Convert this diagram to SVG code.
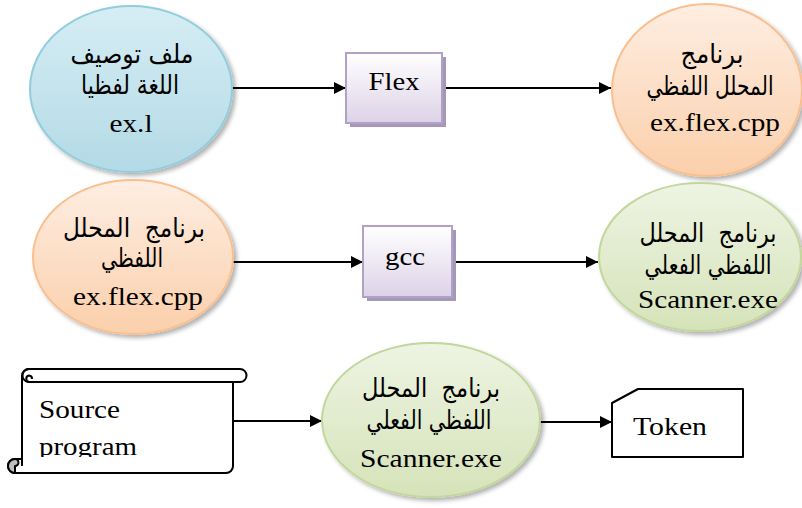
<svg xmlns="http://www.w3.org/2000/svg" width="802" height="508" viewBox="0 0 802 508">
<style>
.t{font-family:"Liberation Serif","Times New Roman",serif;font-size:26px;fill:#000;text-anchor:middle}
.ts{font-family:"Liberation Serif","Times New Roman",serif;font-size:26px;fill:#000}
.ar{font-family:"DejaVu Sans",sans-serif;font-size:22px;fill:#000;text-anchor:middle;white-space:pre}
.blue{fill:url(#gb);stroke:#93cddd;stroke-width:2}
.orange{fill:url(#go);stroke:#f9bf8f;stroke-width:2}
.green{fill:url(#gg);stroke:#c3d69b;stroke-width:2}
.box{fill:url(#gp);stroke:#b2a1c7;stroke-width:2}
.boxsh{fill:#a597b8}
.conn{stroke:#000;stroke-width:2;fill:none;marker-end:url(#arr)}
.sh{stroke:#000;stroke-width:2;fill:#fff;stroke-linejoin:round}
</style>
<defs>
<linearGradient id="gb" x1="0" y1="0" x2="0" y2="1"><stop offset="0" stop-color="#d6edf4"/><stop offset="1" stop-color="#b3dae6"/></linearGradient>
<linearGradient id="go" x1="0" y1="0" x2="0" y2="1"><stop offset="0" stop-color="#feeee2"/><stop offset="1" stop-color="#fbcfab"/></linearGradient>
<linearGradient id="gg" x1="0" y1="0" x2="0" y2="1"><stop offset="0" stop-color="#eef4e3"/><stop offset="1" stop-color="#d5e3b9"/></linearGradient>
<linearGradient id="gp" x1="0" y1="0" x2="0" y2="1"><stop offset="0" stop-color="#ffffff"/><stop offset="1" stop-color="#dcd2e7"/></linearGradient>
<filter id="ds" x="-10%" y="-10%" width="125%" height="125%"><feDropShadow dx="3" dy="3" stdDeviation="2" flood-color="#000" flood-opacity="0.3"/></filter>
<marker id="arr" viewBox="0 0 10 10" refX="10" refY="5" markerWidth="6" markerHeight="6" orient="auto" markerUnits="strokeWidth"><path d="M0 0 L10 5 L0 10 Z" fill="#000"/></marker>
<clipPath id="scrollclip"><rect x="22" y="382" width="211" height="75"/></clipPath>
</defs>

<g id="connectors">
<line class="conn" x1="232" y1="88" x2="346" y2="88"/>
<line class="conn" x1="442" y1="88" x2="611" y2="88"/>
<line class="conn" x1="233" y1="262" x2="363" y2="262"/>
<line class="conn" x1="452" y1="262" x2="598" y2="262"/>
<line class="conn" x1="233" y1="421" x2="322" y2="421"/>
<line class="conn" x1="540" y1="422" x2="612" y2="422"/>
</g>

<g id="n-spec">
<ellipse class="blue" filter="url(#ds)" cx="131" cy="89" rx="101" ry="83"/>
<text class="ar" transform="translate(132 63) scale(1 1.2)" textLength="123" lengthAdjust="spacingAndGlyphs">ملف توصيف</text>
<text class="ar" transform="translate(130 94) scale(1 1.2)" textLength="98" lengthAdjust="spacingAndGlyphs">اللغة لفظيا</text>
<text class="t" x="131" y="132" textLength="43" lengthAdjust="spacingAndGlyphs">ex.l</text>
</g>

<g id="n-flex">
<rect class="boxsh" x="350" y="57" width="96" height="70"/>
<rect class="box" x="346" y="53" width="96" height="70"/>
<text class="t" x="394" y="90" textLength="51" lengthAdjust="spacingAndGlyphs">Flex</text>
</g>

<g id="n-lexcpp">
<ellipse class="orange" filter="url(#ds)" cx="707" cy="90" rx="95" ry="86"/>
<text class="ar" transform="translate(712 63) scale(1 1.2)" textLength="63" lengthAdjust="spacingAndGlyphs">برنامج</text>
<text class="ar" transform="translate(710 95) scale(1 1.2)" textLength="127" lengthAdjust="spacingAndGlyphs">المحلل اللفظي</text>
<text class="t" x="715" y="131" textLength="130" lengthAdjust="spacingAndGlyphs">ex.flex.cpp</text>
</g>

<g id="n-lexcpp2">
<ellipse class="orange" filter="url(#ds)" cx="133" cy="257" rx="100" ry="77"/>
<text class="ar" transform="translate(134 237) scale(1 1.2)" textLength="142" lengthAdjust="spacingAndGlyphs">برنامج  المحلل</text>
<text class="ar" transform="translate(132 267) scale(1 1.2)" textLength="62" lengthAdjust="spacingAndGlyphs">اللفظي</text>
<text class="t" x="138" y="305" textLength="130" lengthAdjust="spacingAndGlyphs">ex.flex.cpp</text>
</g>

<g id="n-gcc">
<rect class="boxsh" x="367" y="230" width="89" height="71"/>
<rect class="box" x="363" y="226" width="89" height="71"/>
<text class="t" x="405" y="265" textLength="40" lengthAdjust="spacingAndGlyphs">gcc</text>
</g>

<g id="n-scanner1">
<ellipse class="green" filter="url(#ds)" cx="700" cy="257" rx="101" ry="74"/>
<text class="ar" transform="translate(708 242) scale(1 1.2)" textLength="137" lengthAdjust="spacingAndGlyphs">برنامج  المحلل</text>
<text class="ar" transform="translate(708 274) scale(1 1.2)" textLength="127" lengthAdjust="spacingAndGlyphs">اللفظي الفعلي</text>
<text class="t" x="708" y="308" textLength="140" lengthAdjust="spacingAndGlyphs">Scanner.exe</text>
</g>

<g id="n-source">
<path class="sh" d="M22 466 V376 A7 7 0 0 1 29 369 H240 A6.5 6.5 0 0 1 240 382 H233 V466 A7 7 0 0 1 226 473 H15 A7 7 0 0 1 15 459 H22"/>
<line x1="29" y1="382" x2="233" y2="382" stroke="#000" stroke-width="2"/>
<path d="M29 382 A6.5 6.5 0 0 1 29 369" fill="none" stroke="#000" stroke-width="2"/>
<path d="M29 382 A3.3 3.3 0 0 1 29 375.5 A3.3 3.3 0 0 1 32 379" fill="none" stroke="#000" stroke-width="2"/>
<path d="M15 473 A7 7 0 0 1 15 459 A3.5 3.5 0 0 1 15 466 Z" fill="#bfbfbf" stroke="#000" stroke-width="2" stroke-linejoin="round"/>
<line x1="22" y1="459" x2="22" y2="466" stroke="#000" stroke-width="2"/>
<g clip-path="url(#scrollclip)">
<text class="ts" x="39" y="418" textLength="81" lengthAdjust="spacingAndGlyphs">Source</text>
<text class="ts" x="39" y="455" textLength="98" lengthAdjust="spacingAndGlyphs">program</text>
</g>
</g>

<g id="n-scanner2">
<ellipse class="green" filter="url(#ds)" cx="431" cy="420" rx="109" ry="77"/>
<text class="ar" transform="translate(431 397) scale(1 1.2)" textLength="138" lengthAdjust="spacingAndGlyphs">برنامج  المحلل</text>
<text class="ar" transform="translate(429 429) scale(1 1.2)" textLength="125" lengthAdjust="spacingAndGlyphs">اللفظي الفعلي</text>
<text class="t" x="431" y="467" textLength="142" lengthAdjust="spacingAndGlyphs">Scanner.exe</text>
</g>

<g id="n-token">
<path class="sh" d="M612 403 L638 389 H743 V457 H612 Z"/>
<text class="ts" x="633" y="435" textLength="74" lengthAdjust="spacingAndGlyphs">Token</text>
</g>
</svg>
